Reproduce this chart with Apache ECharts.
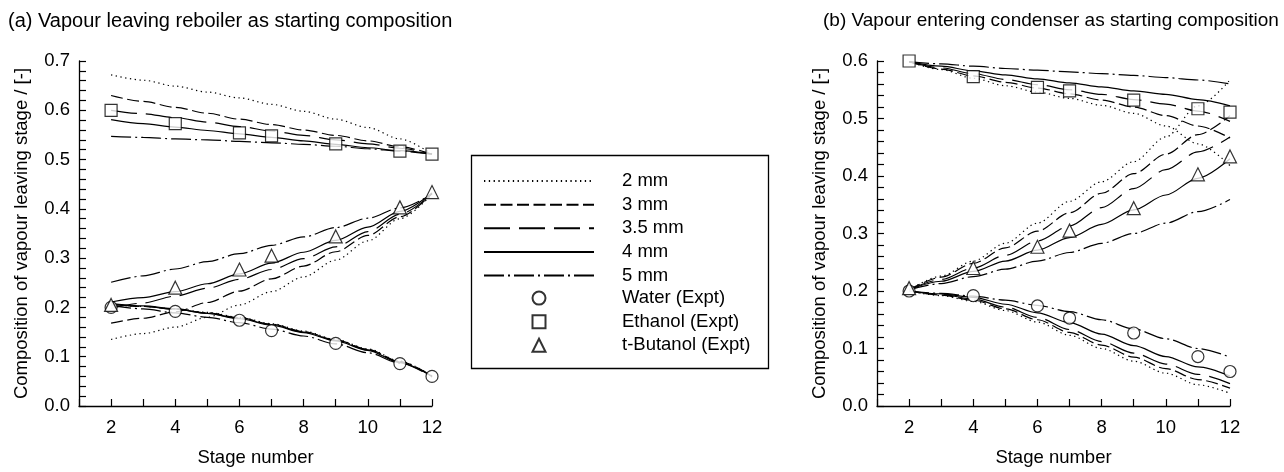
<!DOCTYPE html>
<html>
<head>
<meta charset="utf-8">
<script src="https://cdn.jsdelivr.net/npm/echarts@6/dist/echarts.min.js"></script>
<style>html,body{margin:0;padding:0;background:#fff;}#c{width:1284px;height:472px;}</style>
</head>
<body>
<div id="c"></div>
<script>
// ---- data ----
const stages = [2, 3, 4, 5, 6, 7, 8, 9, 10, 11, 12];
const expStages = [2, 4, 6, 7, 9, 11, 12];
const waterExpt = [0.200, 0.192, 0.174, 0.153, 0.127, 0.086, 0.060];
const ethanolExpt = [0.600, 0.573, 0.554, 0.548, 0.532, 0.517, 0.511];
const tbutanolExpt = [0.205, 0.240, 0.277, 0.305, 0.344, 0.403, 0.434];
const sizes = ['2 mm', '3 mm', '3.5 mm', '4 mm', '5 mm'];
const exptNames = ['Water (Expt)', 'Ethanol (Expt)', 't-Butanol (Expt)'];
const xTicks = [2, 4, 6, 8, 10, 12];

// (a) vapour leaving reboiler as starting composition
const aEth2 = [0.672, 0.661, 0.649, 0.637, 0.625, 0.612, 0.598, 0.582, 0.565, 0.542, 0.511];
const aEth3 = [0.630, 0.618, 0.606, 0.594, 0.582, 0.571, 0.560, 0.549, 0.538, 0.526, 0.511];
const aEth35 = [0.600, 0.593, 0.585, 0.576, 0.567, 0.558, 0.549, 0.540, 0.532, 0.523, 0.511];
const aEth4 = [0.581, 0.573, 0.566, 0.559, 0.552, 0.545, 0.538, 0.531, 0.524, 0.518, 0.511];
const aEth5 = [0.547, 0.545, 0.542, 0.540, 0.537, 0.534, 0.531, 0.527, 0.522, 0.517, 0.511];
const aTbu2 = [0.135, 0.147, 0.160, 0.180, 0.205, 0.232, 0.262, 0.296, 0.335, 0.380, 0.430];
const aTbu3 = [0.168, 0.178, 0.191, 0.210, 0.233, 0.258, 0.284, 0.313, 0.346, 0.384, 0.431];
const aTbu35 = [0.198, 0.209, 0.223, 0.239, 0.257, 0.277, 0.299, 0.323, 0.354, 0.389, 0.431];
const aTbu4 = [0.211, 0.220, 0.232, 0.248, 0.268, 0.290, 0.312, 0.336, 0.363, 0.395, 0.432];
const aTbu5 = [0.251, 0.264, 0.278, 0.293, 0.309, 0.326, 0.343, 0.362, 0.381, 0.402, 0.430];
const aWat2 = [0.205, 0.202, 0.197, 0.190, 0.180, 0.167, 0.152, 0.135, 0.116, 0.091, 0.061];
const aWat3 = [0.206, 0.202, 0.197, 0.189, 0.179, 0.166, 0.151, 0.134, 0.115, 0.090, 0.061];
const aWat35 = [0.206, 0.202, 0.196, 0.188, 0.178, 0.165, 0.150, 0.133, 0.114, 0.089, 0.060];
const aWat4 = [0.208, 0.203, 0.197, 0.188, 0.177, 0.164, 0.149, 0.132, 0.113, 0.088, 0.060];
const aWat5 = [0.204, 0.197, 0.189, 0.180, 0.169, 0.156, 0.142, 0.126, 0.108, 0.087, 0.059];

// (b) vapour entering condenser as starting composition
const bEth2 = [0.599, 0.585, 0.570, 0.557, 0.546, 0.535, 0.523, 0.509, 0.487, 0.456, 0.418];
const bEth3 = [0.599, 0.586, 0.574, 0.563, 0.553, 0.543, 0.532, 0.520, 0.505, 0.487, 0.466];
const bEth35 = [0.599, 0.588, 0.578, 0.568, 0.559, 0.550, 0.542, 0.533, 0.525, 0.513, 0.495];
const bEth4 = [0.599, 0.591, 0.583, 0.576, 0.569, 0.562, 0.555, 0.548, 0.542, 0.533, 0.522];
const bEth5 = [0.599, 0.595, 0.591, 0.587, 0.584, 0.581, 0.578, 0.575, 0.571, 0.567, 0.560];
const bTbu2 = [0.202, 0.226, 0.252, 0.283, 0.318, 0.356, 0.390, 0.425, 0.468, 0.522, 0.567];
const bTbu3 = [0.202, 0.224, 0.248, 0.275, 0.304, 0.336, 0.370, 0.404, 0.438, 0.472, 0.505];
const bTbu35 = [0.202, 0.220, 0.240, 0.262, 0.287, 0.313, 0.345, 0.378, 0.411, 0.442, 0.468];
const bTbu4 = [0.202, 0.217, 0.234, 0.252, 0.271, 0.293, 0.316, 0.341, 0.367, 0.396, 0.430];
const bTbu5 = [0.202, 0.213, 0.225, 0.238, 0.252, 0.267, 0.283, 0.300, 0.318, 0.338, 0.359];
const bWat2 = [0.200, 0.192, 0.182, 0.166, 0.146, 0.123, 0.100, 0.078, 0.057, 0.037, 0.022];
const bWat3 = [0.200, 0.193, 0.184, 0.169, 0.150, 0.128, 0.106, 0.085, 0.065, 0.046, 0.031];
const bWat35 = [0.200, 0.194, 0.186, 0.172, 0.154, 0.133, 0.112, 0.092, 0.073, 0.055, 0.039];
const bWat4 = [0.200, 0.195, 0.189, 0.177, 0.162, 0.145, 0.125, 0.105, 0.086, 0.068, 0.052];
const bWat5 = [0.200, 0.196, 0.191, 0.184, 0.175, 0.164, 0.150, 0.134, 0.117, 0.100, 0.085];

// ---- styling / building ----
const FONT = 'Liberation Sans, Arial, Helvetica, sans-serif';
const dash = {'2 mm': [1.3, 3.5], '3 mm': [12, 4.5], '3.5 mm': [26, 9], '4 mm': 'solid', '5 mm': [20, 4, 2, 4]};
const panelA = {'2 mm': [aEth2, aTbu2, aWat2], '3 mm': [aEth3, aTbu3, aWat3], '3.5 mm': [aEth35, aTbu35, aWat35], '4 mm': [aEth4, aTbu4, aWat4], '5 mm': [aEth5, aTbu5, aWat5]};
const panelB = {'2 mm': [bEth2, bTbu2, bWat2], '3 mm': [bEth3, bTbu3, bWat3], '3.5 mm': [bEth35, bTbu35, bWat35], '4 mm': [bEth4, bTbu4, bWat4], '5 mm': [bEth5, bTbu5, bWat5]};
const exptSets = [[waterExpt, 'circle', 12], [ethanolExpt, 'rect', 12], [tbutanolExpt, 'triangle', 13]];

const series = [];
[panelA, panelB].forEach(function (panel, gi) {
  sizes.forEach(function (name) {
    panel[name].forEach(function (ys) {
      series.push({
        type: 'line', name: name, xAxisIndex: gi, yAxisIndex: gi,
        data: stages.map(function (s, i) { return [s, ys[i]]; }),
        symbol: 'none', smooth: 0.3, smoothMonotone: 'x', silent: true,
        itemStyle: {color: 'rgba(0,0,0,0)', borderWidth: 0},
        lineStyle: {color: '#000', width: 1.2, type: dash[name]}
      });
    });
  });
  exptSets.forEach(function (e, k) {
    series.push({
      type: 'scatter', name: exptNames[k], xAxisIndex: gi, yAxisIndex: gi, symbol: e[1], symbolSize: e[2], z: 5,
      data: expStages.map(function (s, i) { return [s, e[0][i]]; }),
      itemStyle: {color: '#fff', borderColor: '#000', borderWidth: 1.2}
    });
  });
});

function xAxis(gi) {
  return {
    type: 'value', gridIndex: gi, min: 1, max: 12, interval: 1,
    name: 'Stage number', nameLocation: 'middle', nameGap: 42,
    nameTextStyle: {fontSize: 18.5, color: '#000', fontFamily: FONT},
    axisLine: {lineStyle: {color: '#000', width: 1.3}},
    axisTick: {inside: true, length: 7, lineStyle: {color: '#000', width: 1.2}},
    axisLabel: {margin: 12, fontSize: 18.5, color: '#000', fontFamily: FONT,
      formatter: function (v) { return xTicks.indexOf(v) >= 0 ? String(v) : ''; }},
    splitLine: {show: false}
  };
}
function yAxis(gi, max) {
  return {
    type: 'value', gridIndex: gi, min: 0, max: max, interval: 0.1,
    name: 'Composition of vapour leaving stage / [-]', nameLocation: 'middle', nameGap: 48, nameRotate: 90,
    nameTextStyle: {fontSize: 18.5, color: '#000', fontFamily: FONT},
    axisLine: {show: true, lineStyle: {color: '#000', width: 1.3}},
    axisTick: {inside: true, length: 7, lineStyle: {color: '#000', width: 1.2}},
    minorTick: {show: true, splitNumber: 5, length: 7, lineStyle: {color: '#000', width: 1.2}},
    axisLabel: {margin: 9, fontSize: 18.5, color: '#000', fontFamily: FONT,
      formatter: function (v) { return v.toFixed(1); }},
    splitLine: {show: false}, minorSplitLine: {show: false}
  };
}

const legendText = {fontSize: 18.5, color: '#000', fontFamily: FONT};
const chart = echarts.init(document.getElementById('c'), null, {renderer: 'canvas'});
chart.setOption({
  animation: false,
  backgroundColor: '#fff',
  title: [
    {text: '(a) Vapour leaving reboiler as starting composition', left: 8, top: 11, padding: 0,
      textStyle: {fontSize: 20, fontWeight: 'normal', color: '#000', fontFamily: FONT}},
    {text: '(b) Vapour entering condenser as starting composition', left: 823, top: 11, padding: 0,
      textStyle: {fontSize: 19, fontWeight: 'normal', color: '#000', fontFamily: FONT}}
  ],
  grid: [
    {left: 79, top: 61, width: 353, height: 351},
    {left: 877, top: 61, width: 353, height: 351}
  ],
  xAxis: [xAxis(0), xAxis(1)],
  yAxis: [yAxis(0, 0.7), yAxis(1, 0.6)],
  legend: [{
    orient: 'vertical', left: 483, top: 171.6, padding: 0, itemWidth: 110, itemHeight: 14, itemGap: 4.6,
    selectedMode: false, data: sizes,
    textStyle: Object.assign({padding: [0, 0, 0, 23]}, legendText)
  }, {
    orient: 'vertical', left: 531.5, top: 288.6, padding: 0, itemWidth: 13, itemHeight: 13, itemGap: 4.6,
    selectedMode: false, data: exptNames,
    textStyle: Object.assign({padding: [0, 0, 0, 71.5]}, legendText)
  }],
  graphic: [{type: 'rect', left: 469, top: 153, shape: {width: 297, height: 213},
    style: {fill: 'none', stroke: '#000', lineWidth: 1.3}, silent: true}],
  series: series
});
</script>
</body>
</html>
